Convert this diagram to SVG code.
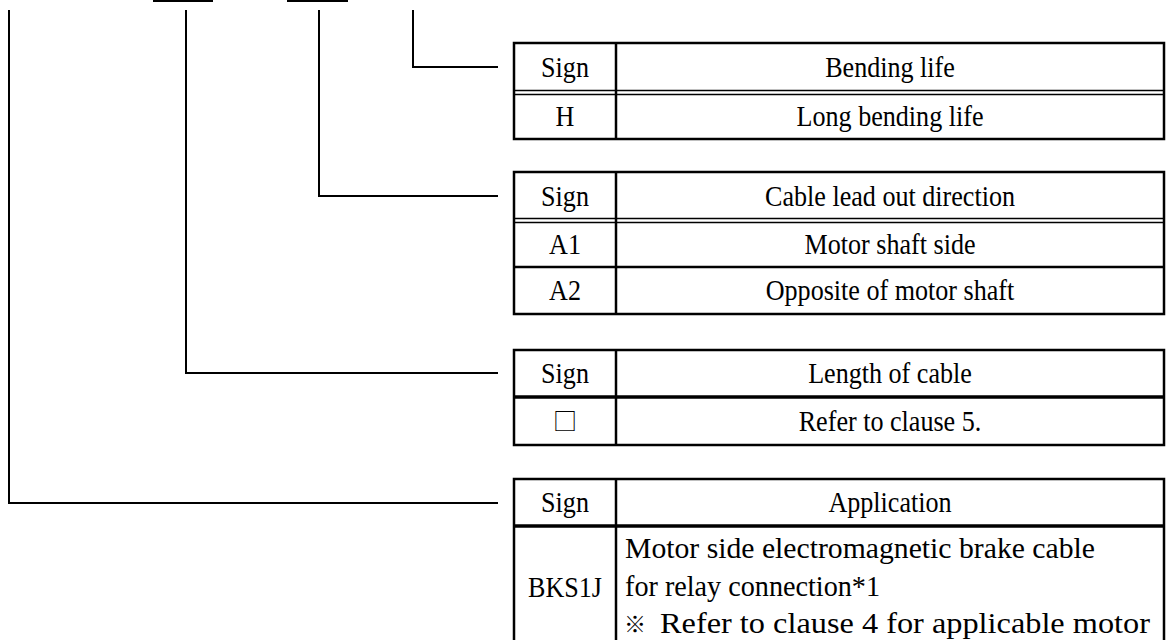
<svg xmlns="http://www.w3.org/2000/svg" width="1171" height="640" viewBox="0 0 1171 640">
<style>
.ln{stroke:#000;stroke-width:2;fill:none}
.bd{stroke:#000;stroke-width:2.5;fill:none}
.th{stroke:#000;stroke-width:1.5;fill:none}
.tk{stroke:#000;stroke-width:3.5;fill:none}
text{font-family:"Liberation Serif","Times New Roman",serif;font-size:29px;fill:#000}
.c{text-anchor:middle}
.cjk{font-family:"Noto Sans CJK JP",sans-serif}
</style>
<rect width="1171" height="640" fill="#fff"/>
<g id="connectors">
<line class="ln" x1="153" y1="1" x2="213" y2="1"/>
<line class="ln" x1="287" y1="1" x2="348" y2="1"/>
<polyline class="ln" points="413,10 413,67 498,67"/>
<polyline class="ln" points="319,10 319,196 498,196"/>
<polyline class="ln" points="186,10 186,373 498,373"/>
<polyline class="ln" points="9,10 9,503 498,503"/>
</g>
<g id="table-bending-life">
<rect class="bd" x="514" y="43" width="650" height="96"/>
<line class="th" x1="514" y1="90.5" x2="1164" y2="90.5"/>
<line class="th" x1="514" y1="94.5" x2="1164" y2="94.5"/>
<line class="bd" x1="616" y1="43" x2="616" y2="139"/>
<text class="c" transform="translate(565,77) scale(0.9,1)">Sign</text>
<text class="c" transform="translate(890,77) scale(0.9,1)">Bending life</text>
<text class="c" transform="translate(565,126) scale(0.9,1)">H</text>
<text class="c" transform="translate(890,126) scale(0.9,1)">Long bending life</text>
</g>
<g id="table-cable-direction">
<rect class="bd" x="514" y="172" width="650" height="142"/>
<line class="th" x1="514" y1="218.5" x2="1164" y2="218.5"/>
<line class="th" x1="514" y1="222.5" x2="1164" y2="222.5"/>
<line class="bd" x1="514" y1="267" x2="1164" y2="267"/>
<line class="bd" x1="616" y1="172" x2="616" y2="314"/>
<text class="c" transform="translate(565,206) scale(0.9,1)">Sign</text>
<text class="c" transform="translate(890,206) scale(0.9,1)">Cable lead out direction</text>
<text class="c" transform="translate(565,254) scale(0.9,1)">A1</text>
<text class="c" transform="translate(890,254) scale(0.9,1)">Motor shaft side</text>
<text class="c" transform="translate(565,300) scale(0.9,1)">A2</text>
<text class="c" transform="translate(890,300) scale(0.9,1)">Opposite of motor shaft</text>
</g>
<g id="table-cable-length">
<rect class="bd" x="514" y="350" width="650" height="95"/>
<line class="tk" x1="514" y1="397" x2="1164" y2="397"/>
<line class="bd" x1="616" y1="350" x2="616" y2="445"/>
<text class="c" transform="translate(565,383) scale(0.9,1)">Sign</text>
<text class="c" transform="translate(890,383) scale(0.9,1)">Length of cable</text>
<text class="c cjk" x="565" y="430" style="font-size:24px">□</text>
<text class="c" transform="translate(890,431) scale(0.9,1)">Refer to clause 5.</text>
</g>
<g id="table-application">
<polyline class="bd" points="514,645 514,479 1164,479 1164,645"/>
<line class="tk" x1="514" y1="526" x2="1164" y2="526"/>
<line class="bd" x1="616" y1="479" x2="616" y2="645"/>
<text class="c" transform="translate(565,512) scale(0.9,1)">Sign</text>
<text class="c" transform="translate(890,512) scale(0.9,1)">Application</text>
<text class="c" transform="translate(565,597) scale(0.9,1)">BKS1J</text>
<text x="625" y="558" textLength="470" lengthAdjust="spacingAndGlyphs">Motor side electromagnetic brake cable</text>
<text x="625" y="596" textLength="255" lengthAdjust="spacingAndGlyphs">for relay connection*1</text>
<text class="cjk" x="624" y="632" style="font-size:22px">※</text>
<text x="660" y="633" textLength="490" lengthAdjust="spacingAndGlyphs">Refer to clause 4 for applicable motor</text>
</g>
</svg>
